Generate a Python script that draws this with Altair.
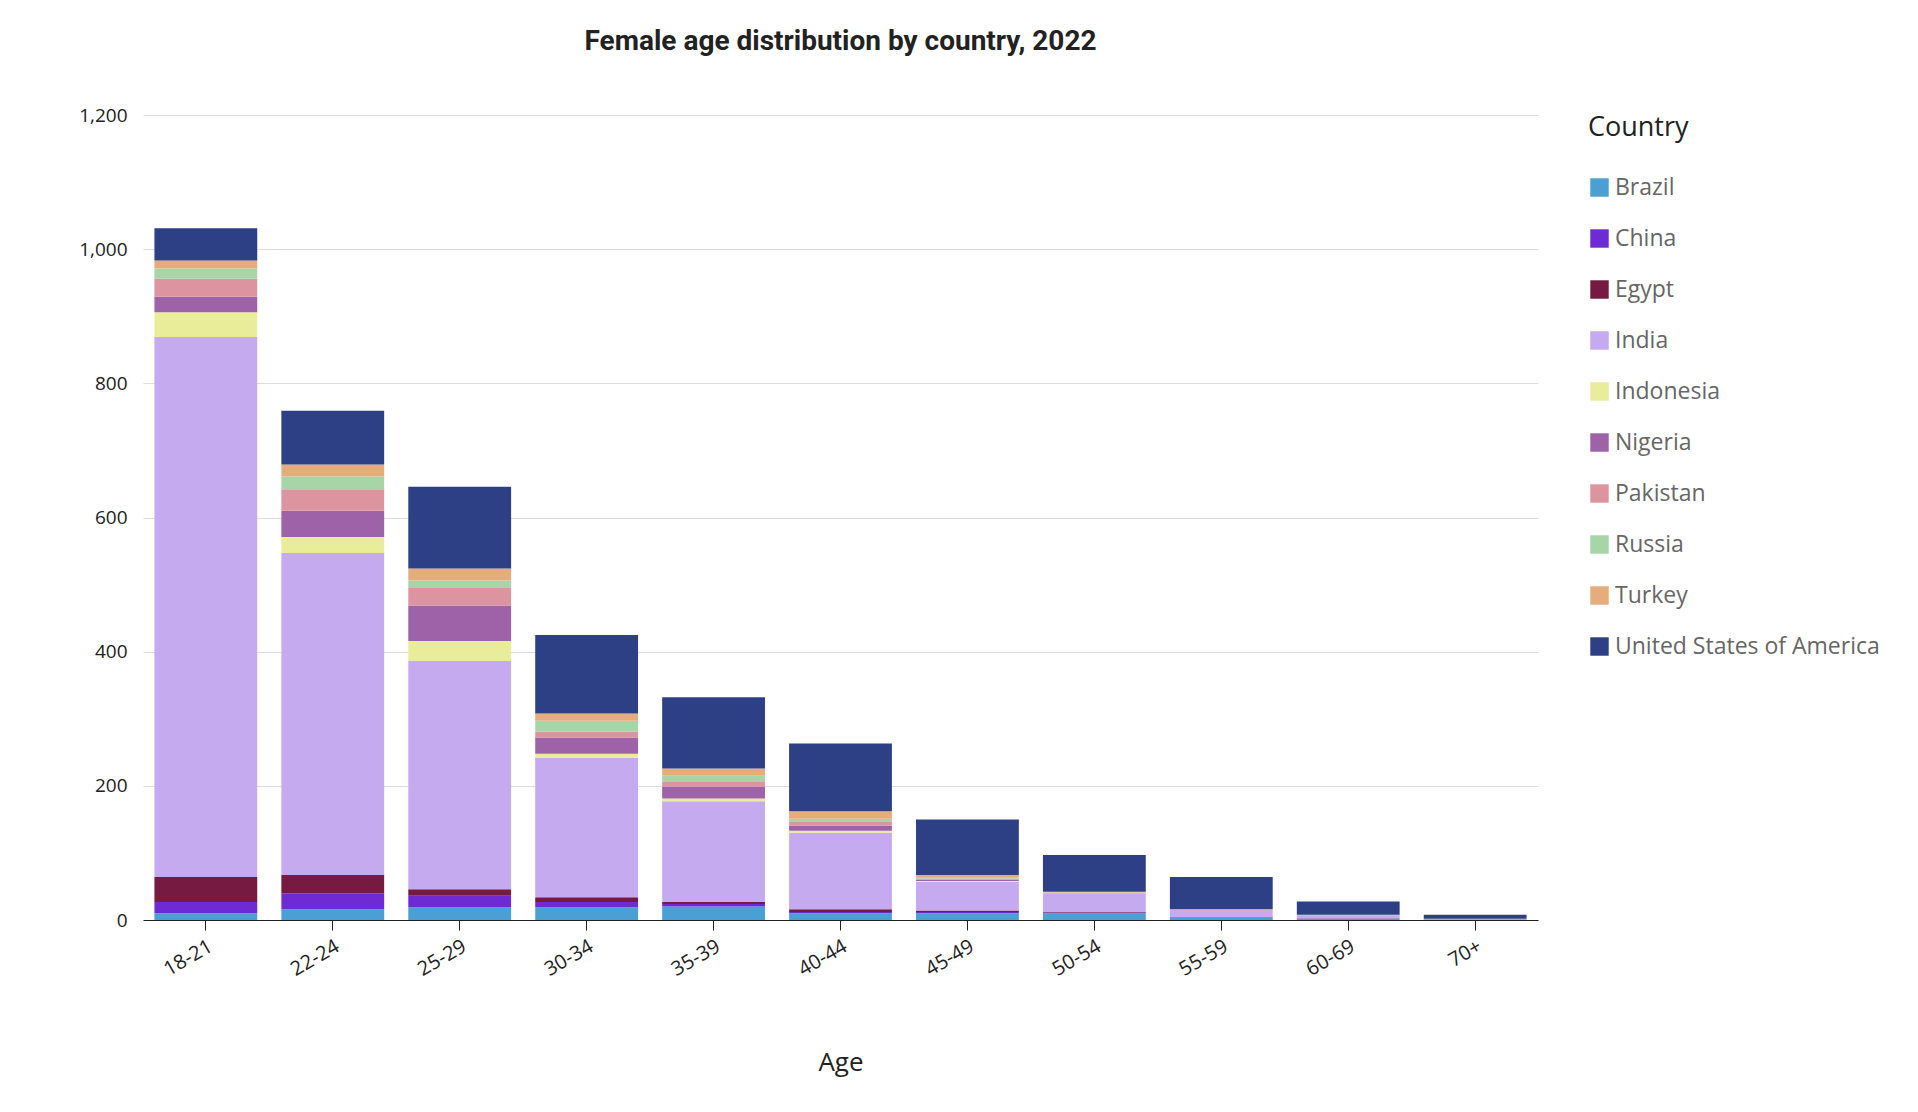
import altair as alt
import pandas as pd

ages = ["18-21", "22-24", "25-29", "30-34", "35-39", "40-44", "45-49", "50-54", "55-59", "60-69", "70+"]
countries = ["Brazil", "China", "Egypt", "India", "Indonesia", "Nigeria", "Pakistan", "Russia", "Turkey", "United States of America"]
colors = ["#4a9fd5", "#6f2bd3", "#771a41", "#c5aaef", "#e9ec98", "#9d62a8", "#dc95a0", "#a8d5a8", "#e6ad7c", "#2d3f85"]

brazil = [10, 16, 19, 19, 20, 10, 10, 10, 3, 2, 0.5]
china = [17, 24, 17, 8, 4, 2, 2, 1, 0.5, 0.3, 0.1]
egypt = [37, 27, 10, 7, 3, 4, 2, 1, 0.5, 0.3, 0.1]
india = [805, 480, 340, 208, 150, 114, 43, 27, 10, 4, 0.5]
indonesia = [37, 24, 30, 6, 4, 3, 1, 0.5, 0.3, 0.2, 0.1]
nigeria = [23, 39, 53, 24, 18, 8, 2, 0.5, 0.3, 0.2, 0.1]
pakistan = [27, 32, 27, 9, 8, 5, 2, 0.5, 0.3, 0.2, 0.1]
russia = [15, 19, 10, 16, 8, 5, 2, 0.5, 0.3, 0.2, 0.1]
turkey = [12, 18, 18, 11, 11, 11, 3, 1, 1, 0.3, 0.1]
usa = [48, 80, 122, 117, 106, 101, 83, 55, 48, 20, 6]

series = [brazil, china, egypt, india, indonesia, nigeria, pakistan, russia, turkey, usa]

rows = []
for c, vals in zip(countries, series):
    for a, v in zip(ages, vals):
        rows.append({"Age": a, "Country": c, "Value": v, "order": countries.index(c)})
df = pd.DataFrame(rows)

chart = alt.Chart(df, title=alt.TitleParams(
    "Female age distribution by country, 2022", fontSize=28, font="Roboto",
    fontWeight="bold", color="#222222", anchor="middle", offset=50)
).mark_bar().encode(
    x=alt.X("Age:N", sort=ages, title="Age",
            scale=alt.Scale(paddingInner=0.19, paddingOuter=0.09),
            axis=alt.Axis(labelAngle=-30, labelFontSize=20, labelColor="#222",
                          titleFontSize=26, titleFontWeight="normal", titleColor="#222",
                          titlePadding=70, tickSize=10, domainColor="#222", tickColor="#222",
                          labelPadding=6)),
    y=alt.Y("sum(Value):Q", title=None, scale=alt.Scale(domain=[0, 1200]),
            axis=alt.Axis(values=[0, 200, 400, 600, 800, 1000, 1200], format=",.0f",
                          labelFontSize=19, labelColor="#222", domain=False, ticks=False,
                          labelPadding=16, gridColor="#dddddd")),
    color=alt.Color("Country:N", sort=countries,
                    scale=alt.Scale(domain=countries, range=colors),
                    legend=alt.Legend(title="Country", titleFontSize=27, titleFontWeight="normal",
                                      titleColor="#222", labelFontSize=23, labelColor="#666",
                                      labelLimit=400, symbolType="square", symbolSize=340,
                                      symbolStrokeWidth=0, rowPadding=27, titlePadding=34,
                                      offset=50)),
    order=alt.Order("order:Q", sort="ascending"),
    tooltip=["Age:N", "Country:N", "Value:Q"],
).properties(width=1395, height=805).configure(
    font="Open Sans", padding={"left": 70, "top": 20, "right": 5, "bottom": 5}
).configure_view(strokeWidth=0)

chart.save("out.html", embed_options={"renderer": "svg", "actions": False})
